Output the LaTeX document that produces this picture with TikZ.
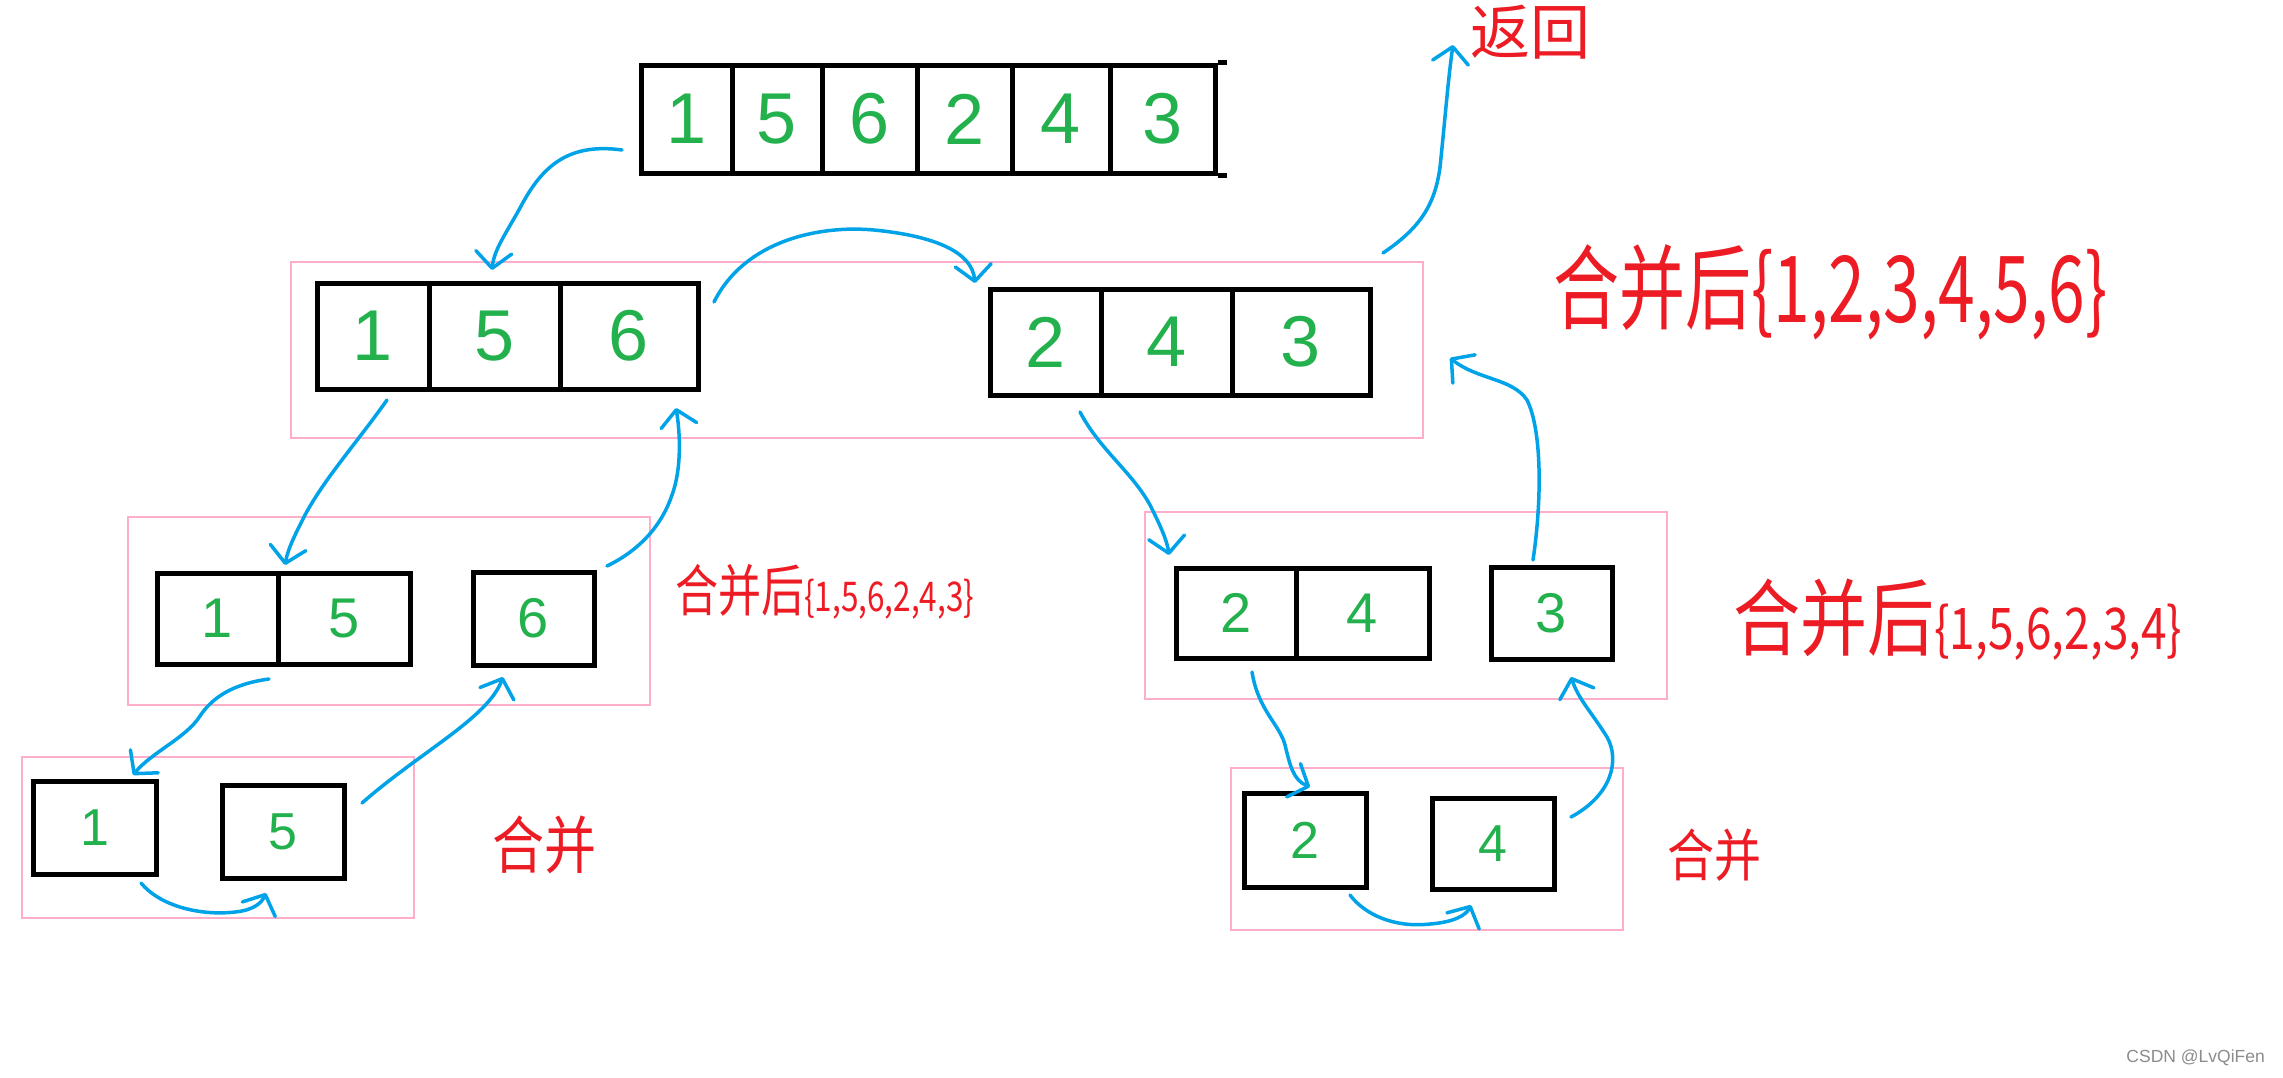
\documentclass[tikz,border=0pt]{standalone}
\usepackage{fontspec}
\usepackage{graphicx}
\usetikzlibrary{arrows.meta}
\newfontfamily\cjk{Noto Sans CJK SC}
\newfontfamily\digf{Liberation Sans}
\definecolor{pinkc}{RGB}{255,174,201}
\definecolor{bluec}{RGB}{0,162,232}
\definecolor{greenc}{RGB}{34,177,76}
\definecolor{redc}{RGB}{237,28,36}
\definecolor{wmark}{RGB}{140,140,140}
\newcommand\mkcell[7]{\node[cellbox, minimum width={#4-#2}, minimum height={#5-#3}, font=\digf\fontsize{#7}{#7}\selectfont] (#1) at ({(#2+#4)/2},{(#3+#5)/2}) {#6};}
\newcommand\mkgrp[5]{\node[grpbox, minimum width={#4-#2}, minimum height={#5-#3}] (#1) at ({(#2+#4)/2},{(#3+#5)/2}) {};}
\begin{document}
\begin{tikzpicture}[x=1pt,y=-1pt,
  cellbox/.style={draw=black, line width=5pt, text=greenc, inner sep=0pt, rectangle},
  grpbox/.style={draw=pinkc, line width=1.5pt, inner sep=0pt, rectangle},
  arr/.style={draw=bluec, line width=3.5pt, line cap=round, line join=round,
    -{Straight Barb[length=16pt,width=36pt,round]}},
  redlab/.style={text=redc, inner sep=0pt, anchor=west}]
\fill[white] (0,0) rectangle (2283,1077);
\useasboundingbox (0,0) rectangle (2283,1077);

% pink groups
\mkgrp{g2}{291}{262}{1423}{438}
\mkgrp{g3l}{128}{517}{650}{705}
\mkgrp{g3r}{1145}{512}{1667}{699}
\mkgrp{g4l}{22}{757}{414}{918}
\mkgrp{g4r}{1231}{768}{1623}{930}

% top array
\mkcell{t1}{641}{65}{732}{173}{1}{72}
\mkcell{t2}{732}{65}{822}{173}{5}{72}
\mkcell{t3}{822}{65}{917}{173}{6}{72}
\mkcell{t4}{917}{65}{1012}{173}{2}{72}
\mkcell{t5}{1012}{65}{1110}{173}{4}{72}
\mkcell{t6}{1110}{65}{1215}{173}{3}{72}
\draw[line width=5pt] (t6.north east) -- ++(9,0);
\draw[line width=5pt] (t6.south east) -- ++(9,0);

% level 2
\mkcell{a1}{317}{283}{429}{389}{1}{72}
\mkcell{a2}{429}{283}{560}{389}{5}{72}
\mkcell{a3}{560}{283}{698}{389}{6}{72}
\mkcell{b1}{990}{289}{1101}{395}{2}{72}
\mkcell{b2}{1101}{289}{1232}{395}{4}{72}
\mkcell{b3}{1232}{289}{1370}{395}{3}{72}

% level 3
\mkcell{c1}{157}{573}{278}{664}{1}{56}
\mkcell{c2}{278}{573}{410}{664}{5}{56}
\mkcell{c6}{473}{572}{594}{665}{6}{56}
\mkcell{d1}{1176}{568}{1296}{658}{2}{56}
\mkcell{d2}{1296}{568}{1429}{658}{4}{56}
\mkcell{d3}{1491}{567}{1612}{659}{3}{56}

% level 4
\mkcell{e1}{33}{781}{156}{874}{1}{52}
\mkcell{e5}{222}{785}{344}{878}{5}{52}
\mkcell{f2}{1244}{793}{1366}{887}{2}{52}
\mkcell{f4}{1432}{798}{1554}{889}{4}{52}

% red labels
\node[redlab] (lab1) at (1553,292) {\scalebox{1}[1.4]{\cjk\fontsize{66}{66}\selectfont 合并后\{1,2,3,4,5,6\}}};
\node[redlab] (lab2) at (675,592) {\scalebox{1}[1.3]{\cjk{\fontsize{43}{43}\selectfont 合并后}{\fontsize{31.5}{31.5}\selectfont\{1,5,6,2,4,3\}}}};
\node[redlab] (lab3) at (1733,620) {\scalebox{1}[1.25]{\cjk{\fontsize{67}{67}\selectfont 合并后}{\fontsize{46}{46}\selectfont\{1,5,6,2,3,4\}}}};
\node[redlab] (ret) at (1470,32) {\cjk\fontsize{60}{60}\selectfont 返回};
\node[redlab] (he1) at (492,845) {\scalebox{1}[1.2]{\cjk\fontsize{52}{52}\selectfont 合并}};
\node[redlab] (he2) at (1667,855) {\scalebox{1}[1.2]{\cjk\fontsize{47}{47}\selectfont 合并}};
\node[text=wmark, inner sep=0pt, anchor=east, font=\digf\fontsize{17.5}{17.5}\selectfont] (wm) at (2265,1058) {CSDN @LvQiFen};

% connector end points
\coordinate (s1) at (622,150);  \coordinate (e1) at (492,270);
\coordinate (s2) at (714,302);  \coordinate (e2) at (975,283);
\coordinate (s3) at (387,400);  \coordinate (e3) at (285,565);
\coordinate (s4) at (607,566);  \coordinate (e4) at (676,408);
\coordinate (s5) at (269,679);  \coordinate (e5p) at (133,775);
\coordinate (s6) at (362,803);  \coordinate (e6) at (503,677);
\coordinate (s7) at (141,883);  \coordinate (e7) at (266,893);
\coordinate (s8) at (1080,412); \coordinate (e8) at (1169,555);
\coordinate (s9) at (1533,560); \coordinate (e9) at (1450,358);
\coordinate (s10) at (1383,253); \coordinate (e10) at (1453,45);
\coordinate (s11) at (1350,895); \coordinate (e11) at (1471,905);
\coordinate (s12) at (1252,672); \coordinate (e12) at (1310,787);
\coordinate (s13) at (1571,817); \coordinate (e13) at (1571,677);

% blue connectors
\draw[arr] (s1) .. controls (565,142) and (540,170) .. (520,208) .. controls (505,235) and (494,250) .. (e1);
\draw[arr] (s2) .. controls (745,240) and (820,225) .. (874,230) .. controls (935,236) and (972,252) .. (e2);
\draw[arr] (s3) .. controls (355,445) and (325,478) .. (305,515) .. controls (296,533) and (288,548) .. (e3);
\draw[arr] (s4) .. controls (640,550) and (662,525) .. (672,495) .. controls (682,468) and (680,432) .. (e4);
\draw[arr] (s5) .. controls (232,684) and (212,698) .. (200,716) .. controls (186,738) and (152,752) .. (e5p);
\draw[arr] (s6) .. controls (420,752) and (488,718) .. (e6);
\draw[arr] (s7) .. controls (160,906) and (200,916) .. (235,912) .. controls (255,910) and (262,902) .. (e7);
\draw[arr] (s8) .. controls (1100,450) and (1132,472) .. (1150,505) .. controls (1160,525) and (1167,540) .. (e8);
\draw[arr] (s9) .. controls (1542,500) and (1542,430) .. (1527,400) .. controls (1512,378) and (1478,380) .. (e9);
\draw[arr] (s10) .. controls (1420,228) and (1435,205) .. (1440,167) .. controls (1445,120) and (1448,80) .. (e10);
\draw[arr] (s11) .. controls (1365,915) and (1395,928) .. (1430,924) .. controls (1455,922) and (1466,915) .. (e11);
\draw[arr] (s12) .. controls (1258,710) and (1280,725) .. (1285,745) .. controls (1290,765) and (1293,780) .. (e12);
\draw[arr] (s13) .. controls (1612,795) and (1620,760) .. (1607,737) .. controls (1590,710) and (1579,700) .. (e13);
\end{tikzpicture}
\end{document}
